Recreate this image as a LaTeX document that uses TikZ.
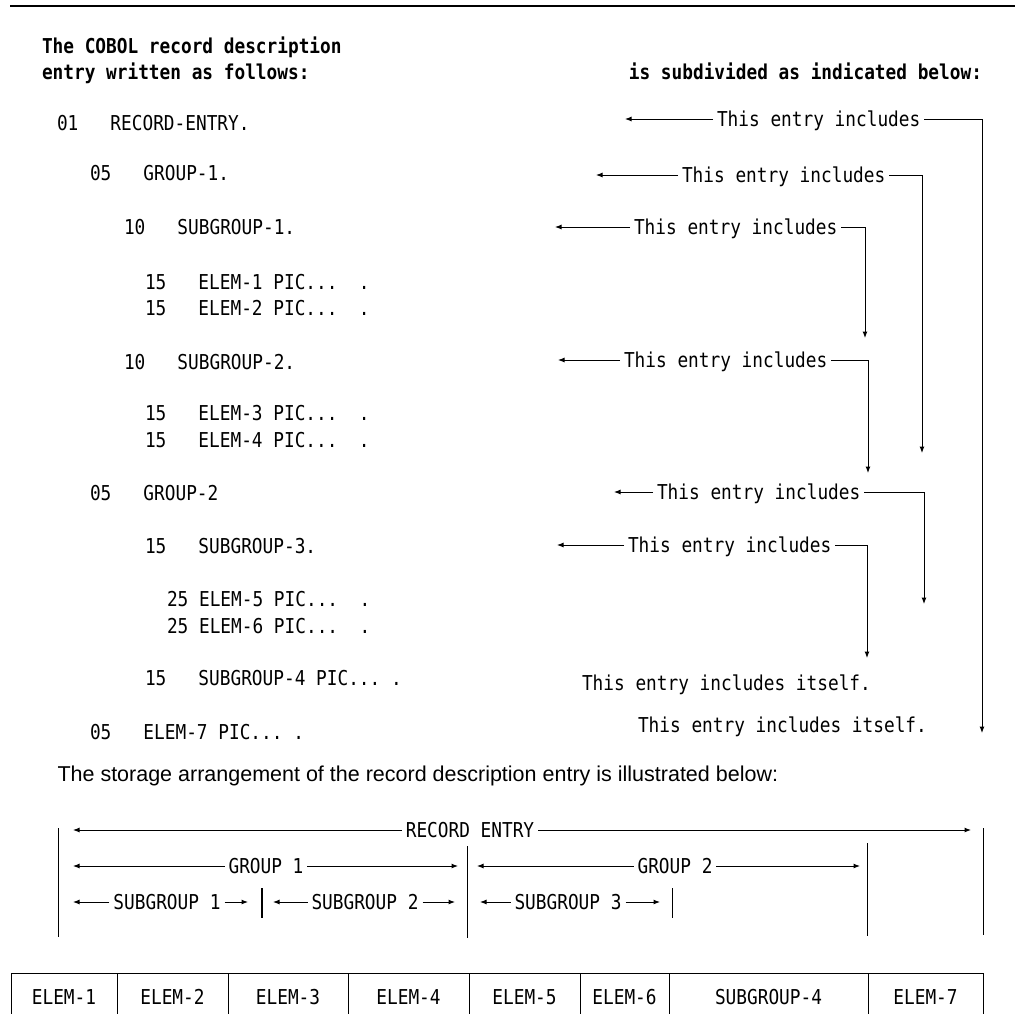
\documentclass[tikz,border=0pt]{standalone}
\usepackage{fontspec}
\newfontfamily\cobolfont[FakeStretch=0.867]{DejaVu Sans Mono}
\newfontfamily\notefont{Liberation Sans}
\usetikzlibrary{arrows.meta}
\usetikzlibrary{calc}

\begin{document}
\begin{tikzpicture}[x=1pt, y=-1pt, line width=1pt,
    mono/.style={font=\cobolfont\fontsize{20.5}{24}\selectfont, inner sep=3.5pt, text height=15pt, text depth=0pt},
    hdr/.style={mono, font=\cobolfont\bfseries\fontsize{20.5}{24}\selectfont},
    arr/.style={-{Latex[length=6.5pt, width=5pt]}}]

      \useasboundingbox (0,0) rectangle (1015,1013);
      \draw[line width=1.5pt] (10,6) -- (1015,6);

      % headings
      \node[hdr, anchor=west] (head1) at (38,46) {The COBOL record description};
      \node[hdr, anchor=west] (head2) at (38,72) {entry written as follows:};
      \node[hdr, anchor=east] (head3) at (986,72) {is subdivided as indicated below:};

      % the record description entry
      \node[mono, anchor=west] (src1) at (53,123) {01~~~RECORD-ENTRY.};
      \node[mono, anchor=west] (src2) at (86,173) {05~~~GROUP-1.};
      \node[mono, anchor=west] (src3) at (120,227) {10~~~SUBGROUP-1.};
      \node[mono, anchor=west] (src4) at (141,282) {15~~~ELEM-1 PIC...~~.};
      \node[mono, anchor=west] (src5) at (141,308) {15~~~ELEM-2 PIC...~~.};
      \node[mono, anchor=west] (src6) at (120,362) {10~~~SUBGROUP-2.};
      \node[mono, anchor=west] (src7) at (141,413) {15~~~ELEM-3 PIC...~~.};
      \node[mono, anchor=west] (src8) at (141,440) {15~~~ELEM-4 PIC...~~.};
      \node[mono, anchor=west] (src9) at (86,493) {05~~~GROUP-2};
      \node[mono, anchor=west] (src10) at (141,546) {15~~~SUBGROUP-3.};
      \node[mono, anchor=west] (src11) at (163,599) {25 ELEM-5 PIC...~~.};
      \node[mono, anchor=west] (src12) at (163,626) {25 ELEM-6 PIC...~~.};
      \node[mono, anchor=west] (src13) at (141,678) {15~~~SUBGROUP-4 PIC...~.};
      \node[mono, anchor=west] (src14) at (86,732) {05~~~ELEM-7 PIC...~.};

      % what each entry includes
      \foreach \n/\x/\y/\tip/\cx/\dy in {1/713/119/625/982/733, 2/678/175/596/922/453,
                                          3/630/227/555/865/338, 4/620/360/558/868/473,
                                          5/653/492/614/924/604, 6/624/545/557/867/658} {
        \node[mono, anchor=west] (inc\n) at (\x,\y) {This entry includes};
        \coordinate (tip\n) at (\tip,\y);
        \coordinate (end\n) at (\cx,\dy);

        \draw[arr] (inc\n.west) -- (tip\n);
        \draw[arr] (inc\n.east) -| (end\n);
      }

      \node[mono, anchor=west] (self1) at (578,683) {This entry includes itself.};
      \node[mono, anchor=west] (self2) at (634,725) {This entry includes itself.};

      % storage arrangement
      \node[font=\notefont\fontsize{21.5}{25}\selectfont, anchor=base west, inner sep=0pt] (note) at (57,781)
        {The storage arrangement of the record description entry is illustrated below:};

      \foreach \x/\ya/\yb/\w in {58/828/937/1, 983/828/935/1, 467/846/938/1,
                                 867/843/936/1, 262/888/918/2.5, 672/888/918/1} {
        \draw[line width=\w pt] (\x,\ya) -- (\x,\yb);
      }

      \foreach \n/\lab/\cx/\y/\l/\r in {rec/RECORD ENTRY/470/830/73/971,
                                        grpA/GROUP 1/266/866/73/458, grpB/GROUP 2/675/866/477/860,
                                        subA/SUBGROUP 1/167/902/73/248, subB/SUBGROUP 2/365/902/273/455,
                                        subC/SUBGROUP 3/568/902/480/660} {
        \node[mono] (\n) at (\cx,\y) {\lab};
        \coordinate (\n-l) at (\l,\y);
        \coordinate (\n-r) at (\r,\y);

        \draw[arr] (\n.west) -- (\n-l);
        \draw[arr] (\n.east) -- (\n-r);
      }

      % storage cells
      \foreach \a/\b/\lab [count=\i] in {11/117/ELEM-1, 117/228/ELEM-2, 228/348/ELEM-3,
                                         348/469/ELEM-4, 469/580/ELEM-5, 580/669/ELEM-6,
                                         669/868/SUBGROUP-4, 868/983/ELEM-7} {
        \draw (\a,973) rectangle (\b,1030);
        \node[mono] (cell\i) at ({(\a+\b)/2},997) {\lab};
      }
    \end{tikzpicture}
\end{document}
